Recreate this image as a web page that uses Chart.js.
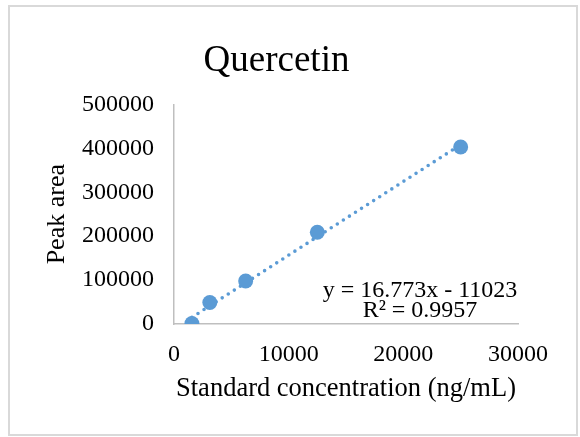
<!DOCTYPE html>
<html>
<head>
<meta charset="utf-8">
<script src="https://cdn.jsdelivr.net/npm/chart.js@4"></script>
<style>
  body { margin: 0; background: #fff; }
  #wrap { position: relative; width: 580px; height: 437px; }
  #frame { position: absolute; left: 8px; top: 5px; width: 566px; height: 427px;
           border: 2px solid #d9d9d9; pointer-events: none; }
</style>
</head>
<body>
<div id="wrap">
  <canvas id="calibChart" width="580" height="437"></canvas>
  <div id="frame"></div>
</div>
<script>
// calibration standards (ng/mL) and measured peak areas
const concentrations = [1562.5, 3125, 6250, 12500, 25000];
const peakAreas = [1000, 49000, 98000, 209000, 403000];

// linear fit reported for the curve
const slope = 16.773;
const intercept = -11023;
const rSquared = 0.9957;

const xTicks = [0, 10000, 20000, 30000];
const yTicks = [0, 100000, 200000, 300000, 400000, 500000];

const blue = '#5b9bd5';
const serif = 'Liberation Serif, Times New Roman, serif';

const points = concentrations.map((c, i) => ({ x: c, y: peakAreas[i] }));
const xFirst = concentrations[0];
const xLast = concentrations[concentrations.length - 1];
const trend = [xFirst, xLast].map(x => ({ x: x, y: slope * x + intercept }));

// equation + R² under the trendline
const fitLabel = {
  id: 'fitLabel',
  afterDatasetsDraw(chart) {
    const { ctx, chartArea } = chart;
    const cx = chartArea.right - 98;
    ctx.save();
    ctx.fillStyle = '#000';
    ctx.font = '24px ' + serif;
    ctx.textAlign = 'center';
    ctx.textBaseline = 'alphabetic';
    const sign = intercept < 0 ? ' - ' : ' + ';
    ctx.fillText('y = ' + slope + 'x' + sign + Math.abs(intercept), cx, chartArea.bottom - 27);
    ctx.fillText('R² = ' + rSquared, cx, chartArea.bottom - 7);
    ctx.restore();
  }
};

const ctx = document.getElementById('calibChart').getContext('2d');
new Chart(ctx, {
  type: 'scatter',
  data: {
    datasets: [
      {
        label: 'Quercetin',
        data: points,
        pointRadius: 7.5,
        pointBackgroundColor: blue,
        pointBorderWidth: 0,
        showLine: false,
        order: 0
      },
      {
        label: 'Linear fit',
        data: trend,
        showLine: true,
        pointRadius: 0,
        borderColor: blue,
        borderWidth: 3.6,
        borderDash: [0, 7.2],
        borderCapStyle: 'round',
        order: 1
      }
    ]
  },
  options: {
    responsive: false,
    animation: false,
    layout: { padding: { left: 35, right: 62, top: 0, bottom: 0 } },
    plugins: {
      legend: { display: false },
      tooltip: { enabled: false },
      title: {
        display: true,
        text: 'Quercetin',
        color: '#000',
        font: { family: serif, size: 37, weight: 'normal' },
        padding: { top: 39, bottom: 21 }
      }
    },
    scales: {
      x: {
        type: 'linear',
        min: xTicks[0],
        max: xTicks[xTicks.length - 1],
        afterBuildTicks: s => { s.ticks = xTicks.map(v => ({ value: v })); },
        afterFit: s => { s.height = 113; },
        grid: { display: false, drawTicks: false },
        border: { display: true, color: '#bfbfbf', width: 1.5 },
        ticks: {
          color: '#000',
          padding: 16,
          font: { family: serif, size: 24 },
          callback: v => String(v)
        },
        title: {
          display: true,
          text: 'Standard concentration (ng/mL)',
          color: '#000',
          font: { family: serif, size: 26.5 },
          padding: { top: 0, bottom: 32 }
        }
      },
      y: {
        type: 'linear',
        min: yTicks[0],
        max: yTicks[yTicks.length - 1],
        afterBuildTicks: s => { s.ticks = yTicks.map(v => ({ value: v })); },
        afterFit: s => { s.width = 139; },
        grid: { display: false, drawTicks: false },
        border: { display: true, color: '#bfbfbf', width: 1.5 },
        ticks: {
          color: '#000',
          padding: 20,
          font: { family: serif, size: 24 },
          callback: v => String(v)
        },
        title: {
          display: true,
          text: 'Peak area',
          color: '#000',
          font: { family: serif, size: 26 },
          padding: { top: 7, bottom: 0 }
        }
      }
    }
  },
  plugins: [fitLabel]
});
</script>
</body>
</html>
